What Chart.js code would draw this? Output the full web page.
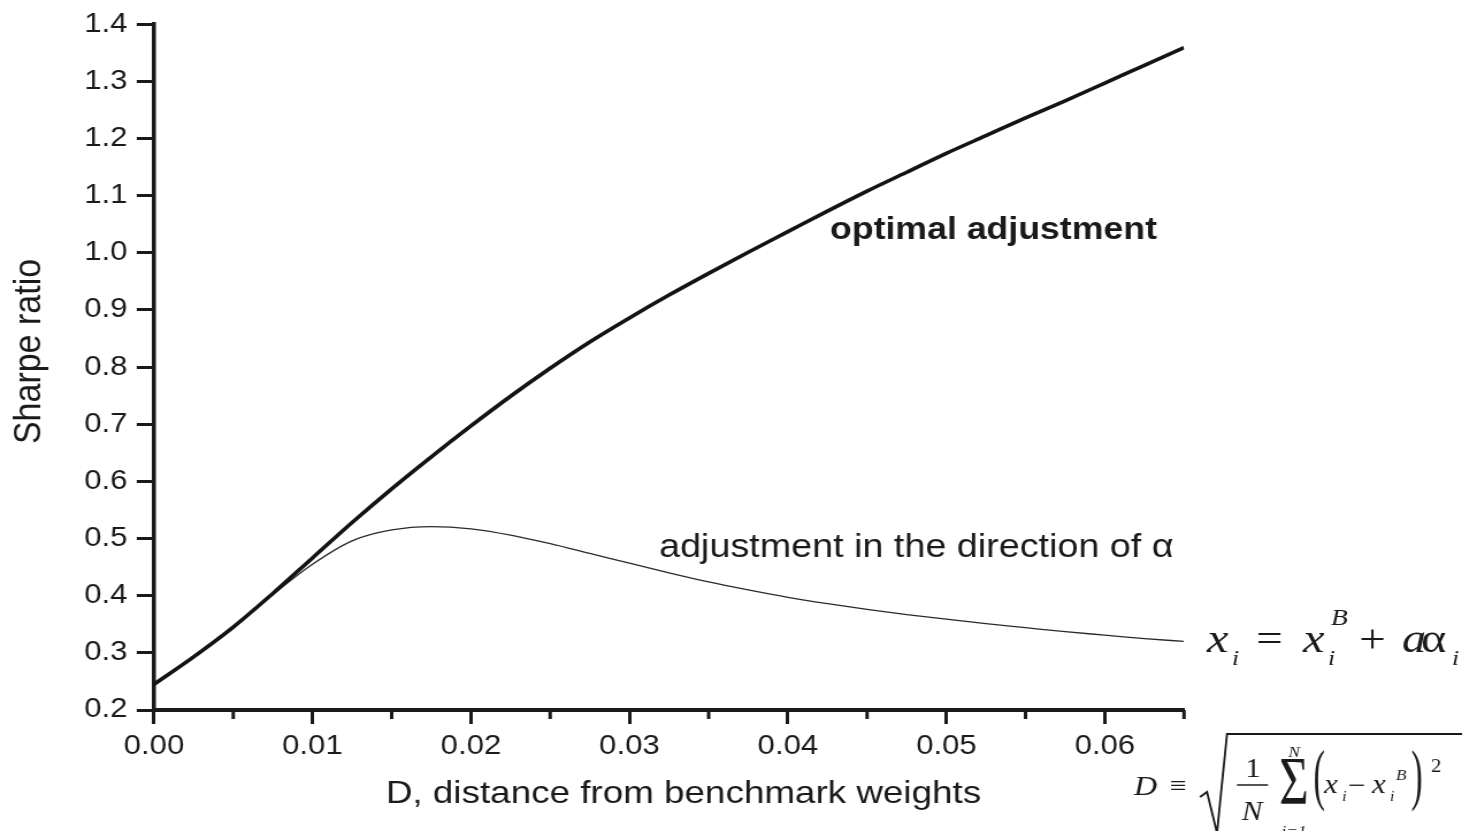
<!DOCTYPE html>
<html>
<head>
<meta charset="utf-8">
<script src="https://cdn.jsdelivr.net/npm/chart.js@4.4.1/dist/chart.umd.min.js"></script>
<style>
html,body{margin:0;padding:0;background:#fff;overflow:hidden;width:1477px;height:831px;}
#wrap{position:absolute;left:0;top:0;width:1284px;height:831px;transform:scaleX(1.1503115);transform-origin:0 0;}
canvas{display:block;}
</style>
</head>
<body>
<div id="wrap"><canvas id="c" width="1284" height="831"></canvas></div>
<script>
// ---- data ----
const distance = [0, 0.0025, 0.005, 0.0075, 0.01, 0.0125, 0.015, 0.0175, 0.02, 0.0225, 0.025, 0.0275, 0.03,
  0.0325, 0.035, 0.0375, 0.04, 0.0425, 0.045, 0.0475, 0.05, 0.0525, 0.055, 0.0575, 0.06, 0.0625, 0.065];
const optimalAdjustment = [0.245, 0.293, 0.345, 0.404, 0.466, 0.528, 0.587, 0.643, 0.697, 0.749, 0.798, 0.844, 0.886,
  0.926, 0.964, 1.001, 1.037, 1.073, 1.108, 1.141, 1.174, 1.205, 1.236, 1.266, 1.297, 1.328, 1.359];
const alphaAdjustment = [0.245, 0.293, 0.345, 0.402, 0.455, 0.496, 0.515, 0.521, 0.517, 0.506, 0.491, 0.474, 0.457,
  0.440, 0.424, 0.410, 0.397, 0.386, 0.376, 0.367, 0.359, 0.351, 0.344, 0.337, 0.331, 0.325, 0.320];
const xTickValues = [0, 0.01, 0.02, 0.03, 0.04, 0.05, 0.06];
const xMinorTickValues = [0.005, 0.015, 0.025, 0.035, 0.045, 0.055, 0.065];
const yTickValues = [0.2, 0.3, 0.4, 0.5, 0.6, 0.7, 0.8, 0.9, 1.0, 1.1, 1.2, 1.3, 1.4];
const xAxisTitle = 'D, distance from benchmark weights';
const yAxisTitle = 'Sharpe ratio';
const optimalLabel = 'optimal adjustment';
const alphaLabel = 'adjustment in the direction of \u03B1';

// ---- layout helpers ----
const S = 1477 / 1284;          // horizontal stretch of the reference
const INK = '#1a1a1a';
const SANS = '"Liberation Sans", Arial, sans-serif';
const SERIF = '"Liberation Serif", "Times New Roman", serif';

function txt(ctx, s, sx, sy, font, align) {
  ctx.font = font;
  ctx.textAlign = align || 'left';
  ctx.textBaseline = 'alphabetic';
  ctx.fillText(s, sx / S, sy);
}
function tall(ctx, s, sx, sy, font, vs) {
  ctx.save();
  ctx.translate(sx / S, sy);
  ctx.scale(1, vs);
  ctx.font = font;
  ctx.textAlign = 'center';
  ctx.textBaseline = 'alphabetic';
  ctx.fillText(s, 0, 0);
  ctx.restore();
}

const extras = {
  id: 'extras',
  afterDraw(chart) {
    const ctx = chart.ctx;
    const xs = chart.scales.x;
    const y0 = xs.top;
    ctx.save();
    // minor ticks on the x axis
    ctx.strokeStyle = INK;
    ctx.lineWidth = 3;
    xMinorTickValues.forEach(v => {
      const px = xs.getPixelForValue(v);
      ctx.beginPath();
      ctx.moveTo(px, y0);
      ctx.lineTo(px, y0 + 9);
      ctx.stroke();
    });
    ctx.fillStyle = INK;

    // axis titles
    ctx.font = '32px ' + SANS;
    ctx.textAlign = 'center';
    ctx.textBaseline = 'middle';
    ctx.fillText(xAxisTitle, 683.5 / S, 794);
    ctx.save();
    ctx.translate(30 / S, 351.5);
    ctx.rotate(-Math.PI / 2);
    ctx.font = '34px ' + SANS;
    ctx.textAlign = 'center';
    ctx.textBaseline = 'middle';
    ctx.fillText(yAxisTitle, 0, 0);
    ctx.restore();

    // curve labels
    txt(ctx, optimalLabel, 830, 239, 'bold 31px ' + SANS);
    txt(ctx, alphaLabel, 659, 557, '32.8px ' + SANS);

    // formula 1: x_i = x_i^B + a alpha_i
    txt(ctx, 'x', 1207, 652, 'italic 42px ' + SERIF);
    txt(ctx, 'i', 1232, 665, 'italic 22px ' + SERIF);
    txt(ctx, '=', 1256, 652, '41px ' + SERIF);
    txt(ctx, 'x', 1303, 652, 'italic 42px ' + SERIF);
    txt(ctx, 'B', 1331, 625, 'italic 24px ' + SERIF);
    txt(ctx, 'i', 1328, 665, 'italic 22px ' + SERIF);
    txt(ctx, '+', 1359, 652, '41px ' + SERIF);
    txt(ctx, 'a', 1402, 652, 'italic 42px ' + SERIF);
    txt(ctx, '\u03B1', 1421, 652, '42px ' + SERIF);
    txt(ctx, 'i', 1452, 665, 'italic 22px ' + SERIF);

    // formula 2: D = sqrt(1/N sum (x_i - x_i^B)^2)
    txt(ctx, 'D', 1134, 795, 'italic 28px ' + SERIF);
    txt(ctx, '\u2261', 1170, 794, '26px ' + SERIF);
    ctx.lineWidth = 1.8;
    ctx.beginPath();
    ctx.moveTo(1200 / S, 797);
    ctx.lineTo(1207 / S, 792);
    ctx.lineTo(1217 / S, 833);
    ctx.lineTo(1227 / S, 734);
    ctx.lineTo(1462 / S, 734);
    ctx.stroke();
    txt(ctx, '1', 1253, 777, '27px ' + SERIF, 'center');
    ctx.lineWidth = 1.5;
    ctx.beginPath();
    ctx.moveTo(1237 / S, 785);
    ctx.lineTo(1268 / S, 785);
    ctx.stroke();
    txt(ctx, 'N', 1252, 820, 'italic 27px ' + SERIF, 'center');
    tall(ctx, '\u03A3', 1294, 803, '44px ' + SERIF, 1.55);
    txt(ctx, 'N', 1294, 757, 'italic 15px ' + SERIF, 'center');
    txt(ctx, 'i=1', 1294, 836, 'italic 15px ' + SERIF, 'center');
    tall(ctx, '(', 1319, 797, '30px ' + SERIF, 2.25);
    txt(ctx, 'x', 1324, 793, 'italic 27px ' + SERIF);
    txt(ctx, 'i', 1342, 801, 'italic 14px ' + SERIF);
    txt(ctx, '\u2212', 1348, 794, '27px ' + SERIF);
    txt(ctx, 'x', 1372, 793, 'italic 27px ' + SERIF);
    txt(ctx, 'i', 1390, 801, 'italic 14px ' + SERIF);
    txt(ctx, 'B', 1396, 780, 'italic 15px ' + SERIF);
    tall(ctx, ')', 1417, 797, '30px ' + SERIF, 2.25);
    txt(ctx, '2', 1431, 772, '18px ' + SERIF);
    ctx.restore();
  }
};

const toPoints = ys => distance.map((x, i) => ({ x: x, y: ys[i] }));

new Chart(document.getElementById('c'), {
  type: 'line',
  data: {
    datasets: [
      {
        label: optimalLabel,
        data: toPoints(optimalAdjustment),
        borderColor: '#141414',
        borderWidth: 3.6,
        pointRadius: 0,
        cubicInterpolationMode: 'monotone',
        fill: false
      },
      {
        label: alphaLabel,
        data: toPoints(alphaAdjustment),
        borderColor: '#2a2a2a',
        borderWidth: 1.3,
        pointRadius: 0,
        cubicInterpolationMode: 'monotone',
        fill: false
      }
    ]
  },
  options: {
    responsive: false,
    animation: false,
    devicePixelRatio: 1,
    layout: { padding: { left: 0, right: 1284 - 1184 / S, top: 23, bottom: 0 } },
    plugins: { legend: { display: false }, tooltip: { enabled: false } },
    scales: {
      x: {
        type: 'linear',
        min: 0,
        max: 0.065,
        afterFit: s => { s.height = 121; },
        afterBuildTicks: s => { s.ticks = xTickValues.map(v => ({ value: v })); },
        border: { display: true, color: INK, width: 4 },
        grid: { drawOnChartArea: false, drawTicks: true, tickLength: 14, tickWidth: 3, color: INK },
        ticks: {
          color: INK,
          font: { family: SANS, size: 27 },
          padding: 6,
          maxRotation: 0,
          autoSkip: false,
          callback: v => Number(v).toFixed(2)
        },
        title: { display: false, text: xAxisTitle }
      },
      y: {
        type: 'linear',
        min: 0.2,
        max: 1.4,
        afterFit: s => { s.width = 154 / S; },
        afterBuildTicks: s => { s.ticks = yTickValues.map(v => ({ value: v })); },
        border: { display: true, color: INK, width: 3.5 },
        grid: { drawOnChartArea: false, drawTicks: true, tickLength: 15, tickWidth: 3, color: INK },
        ticks: {
          color: INK,
          font: { family: SANS, size: 27 },
          padding: 8,
          autoSkip: false,
          callback: v => Number(v).toFixed(1)
        },
        title: { display: false, text: yAxisTitle }
      }
    }
  },
  plugins: [extras]
});
</script>
</body>
</html>
